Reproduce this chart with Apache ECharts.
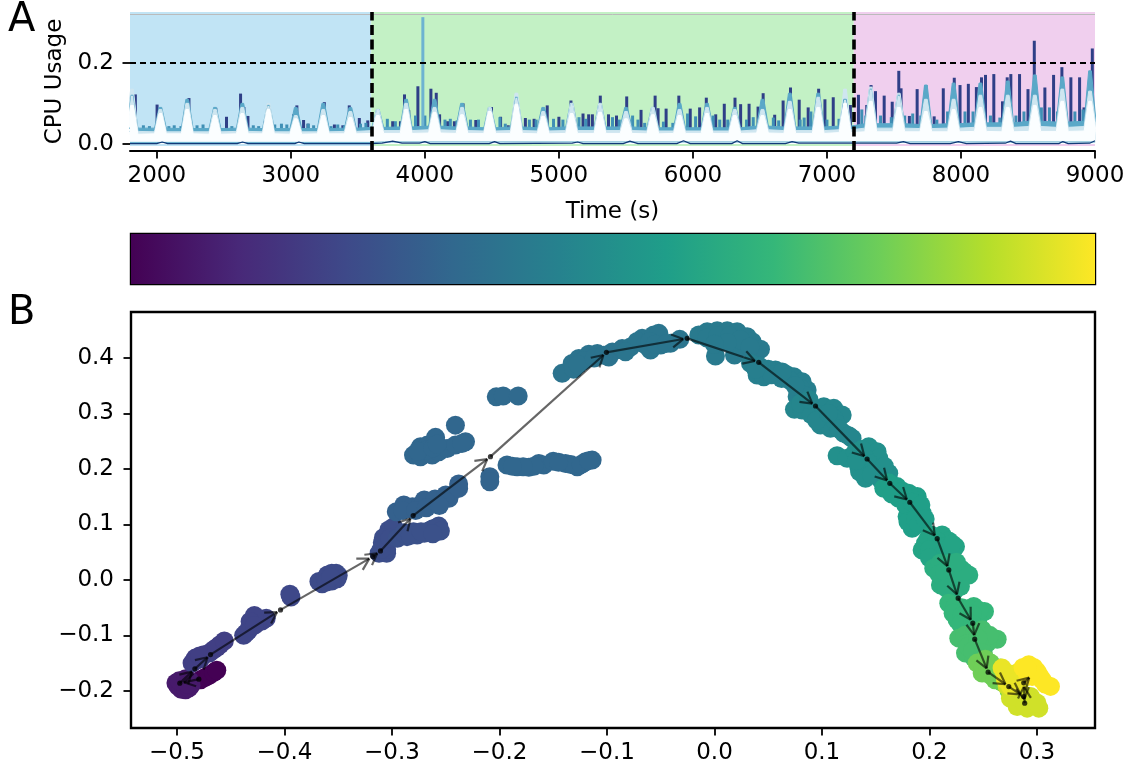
<!DOCTYPE html>
<html><head><meta charset="utf-8">
<style>html,body{margin:0;padding:0;background:#fff}#c{width:1132px;height:772px}</style>
<script src="https://cdn.jsdelivr.net/npm/echarts@6/dist/echarts.min.js"></script>
</head><body><div id="c"></div>
<script>
const viridis=['#440154','#482878','#3e4989','#31688e','#26828e','#1f9e89','#35b779','#6ece58','#b5de2b','#fde725'];
const timeTicks=[2000,3000,4000,5000,6000,7000,8000,9000];
const cpuTicks=[0,0.2];
const embedXTicks=[-0.5,-0.4,-0.3,-0.2,-0.1,0,0.1,0.2,0.3];
const embedYTicks=[-0.2,-0.1,0,0.1,0.2,0.3,0.4];
const phaseBounds=[1800,3600,7200,9000];
const threshold=0.2;

const darkSpikes=[[1840,.122],[2002,.097],[2240,.113],[2440,.089],[2520,.067],[2625,.124],[2650,.091],[2680,.069],[2805,.055],[3020,.073],[3045,.095],[3095,.059],[3128,.05],[3250,.103],[3325,.048],[3388,.046],[3436,.095],[3511,.064],[3574,.058],
[3760,.056],[3818,.056],[3848,.122],[3880,.083],[3948,.142],[4045,.136],[4085,.126],[4110,.073],[4170,.056],[4220,.056],[4285,.10],[4380,.059],[4497,.091],[4565,.067],[4622,.046],[4750,.064],[4815,.062],[4913,.095],[5000,.067],[5090,.107],[5180,.075],[5222,.073],[5250,.073],[5309,.119],[5370,.073],[5430,.07],
[5506,.117],[5613,.084],[5718,.119],[5740,.088],[5800,.087],[5895,.119],[5980,.087],[6050,.09],[6100,.114],[6170,.073],[6234,.099],[6314,.114],[6356,.098],[6419,.099],[6486,.092],[6524,.125],[6610,.072],[6673,.107],[6728,.139],[6793,.109],[6860,.09],[6938,.136],[6985,.11],[7047,.115],[7175,.096],
[7235,.121],[7297,.096],[7329,.145],[7362,.13],[7427,.119],[7487,.104],[7536,.18],[7553,.137],[7615,.069],[7673,.135],[7738,.145],[7800,.068],[7868,.137],[7950,.163],[7993,.145],[8055,.148],[8115,.14],[8153,.164],[8183,.17],[8245,.172],[8310,.105],[8345,.164],[8372,.172],[8437,.172],[8500,.135],[8547,.254],[8626,.139],[8691,.17],[8753,.189],[8820,.164],[8885,.164],[8918,.09],[8980,.235]];
const paleSpike=[[3985,.312]];
const tealSpikes=[[1900,.046],[1945,.044],[2090,.044],[2130,.046],[2180,.044],[2300,.046],[2345,.048],[2400,.044],[2560,.044],[2720,.046],[2760,.044],[2880,.048],[2930,.05],[2970,.048],[3130,.05],[3170,.046],[3300,.044],[3350,.048],[3400,.046],[3520,.05],[3560,.052],
[3720,.062],[3780,.056],[3930,.07],[4000,.07],[4150,.06],[4190,.062],[4240,.058],[4340,.06],[4400,.06],[4560,.066],[4600,.05],[4780,.06],[4830,.06],[4960,.062],[5030,.06],[5150,.066],[5200,.062],[5400,.066],[5450,.06],
[5550,.07],[5590,.06],[5640,.052],[5780,.055],[5850,.052],[5960,.075],[6020,.068],[6150,.07],[6200,.06],[6260,.06],[6400,.06],[6450,.066],[6600,.065],[6640,.058],[6800,.06],[6830,.065],[6880,.08],[7000,.06],[7090,.062],
[7260,.085],[7290,.07],[7400,.07],[7480,.066],[7580,.07],[7640,.075],[7700,.07],[7820,.06],[7900,.08],[8030,.08],[8090,.08],[8220,.07],[8290,.065],[8410,.07],[8470,.08],[8600,.09],[8660,.09],[8720,.08],[8850,.08],[8910,.085]];

const burstTime=[1815,2027,2227,2434,2638,2833,3037,3242,3444,3649,3860,4072,4277,4484,4683,4883,5095,5307,5501,5701,5900,6105,6312,6519,6723,6935,7135,7327,7536,7738,7945,8145,8349,8551,8756,8963];
const tealTop=[.12,.09,.11,.09,.10,.095,.09,.10,.09,.085,.11,.11,.10,.09,.115,.09,.10,.10,.09,.09,.10,.10,.09,.11,.125,.125,.11,.135,.12,.145,.15,.15,.155,.17,.165,.18];
const paleTop=[.135,.085,.10,.085,.09,.10,.07,.085,.08,.085,.10,.09,.09,.09,.125,.08,.10,.10,.08,.09,.085,.09,.085,.085,.105,.115,.135,.14,.125,.11,.11,.12,.12,.12,.135,.13];
const whiteTop=[.095,.075,.085,.07,.075,.085,.062,.07,.065,.07,.085,.078,.072,.08,.098,.068,.075,.078,.062,.072,.07,.075,.07,.07,.085,.09,.1,.105,.09,.08,.085,.09,.09,.095,.105,.105];
const tealBase=[.039,.039,.038,.038,.039,.038,.038,.038,.039,.041,.042,.044,.042,.04,.042,.04,.042,.042,.042,.04,.04,.04,.04,.044,.042,.042,.044,.05,.05,.048,.05,.052,.052,.056,.054,.056];
const paleBase=[.031,.03,.03,.03,.031,.03,.03,.03,.031,.033,.033,.035,.033,.032,.033,.032,.033,.033,.033,.032,.032,.032,.032,.035,.033,.033,.035,.039,.039,.038,.039,.041,.041,.043,.041,.043];
const whiteBase=[.024,.025,.025,.024,.025,.025,.024,.025,.025,.026,.026,.027,.026,.026,.026,.025,.026,.026,.026,.025,.026,.026,.026,.027,.026,.026,.028,.03,.03,.03,.03,.031,.03,.031,.031,.032];

const floorTeal=[[1800,.004],[3600,.004],[3700,.005],[7200,.005],[9000,.005]];
const floorDark=[[1800,.001],[2000,.001],[2040,.005],[2080,.001],[2600,.001],[2640,.005],[2680,.001],[3030,.001],[3060,.005],[3100,.001],[3600,.001],[3680,.002],[3760,.007],[3830,.002],[3960,.002],[4000,.006],[4040,.001],[4480,.001],[4520,.006],[4560,.001],[5100,.002],[5140,.005],[5180,.001],[5480,.001],[5530,.007],[5590,.001],[5880,.001],[5930,.008],[5980,.001],[6290,.001],[6330,.008],[6370,.001],[6690,.001],[6740,.006],[6790,.002],[7200,.002],[7520,.002],[7570,.006],[7620,.001],[7920,.001],[7980,.006],[8040,.001],[8330,.002],[8370,.007],[8410,.001],[8730,.001],[8760,.006],[8800,.001],[8960,.002],[9000,.008]];

const nodeX=[-.4797,-.4974,-.4834,-.4688,-.4037,-.3179,-.3107,-.2803,-.2084,-.1005,-.0254,.0412,.094,.142,.1631,.1817,.2072,.218,.2267,.2403,.2421,.2546,.2738,.2877,.2886,.2877,.2955];
const nodeY=[-.1789,-.1861,-.1604,-.1346,-.0541,.042,.0523,.1159,.2222,.4103,.4355,.3923,.3135,.218,.1742,.14,.0744,.018,-.033,-.078,-.1068,-.1663,-.1923,-.2103,-.2222,-.1856,-.1712];

const c01=[[-.478,-.18],[-.474,-.176],[-.47,-.172],[-.466,-.167],[-.463,-.163]];
const c02=[[-.501,-.186],[-.499,-.192],[-.496,-.197],[-.492,-.198],[-.489,-.195],[-.487,-.19],[-.498,-.182],[-.492,-.178],[-.488,-.182],[-.49,-.188]];
const c03=[[-.486,-.15],[-.483,-.141],[-.475,-.135],[-.466,-.126],[-.46,-.117],[-.478,-.142],[-.47,-.132],[-.484,-.147],[-.479,-.137],[-.463,-.122],[-.456,-.11]];
const c04=[[-.438,-.1],[-.434,-.092],[-.431,-.084],[-.426,-.078],[-.421,-.074],[-.417,-.069],[-.424,-.07],[-.428,-.064],[-.432,-.075],[-.436,-.096],[-.428,-.082]];
const c05=[[-.395,-.026],[-.394,-.031]];
const c06=[[-.368,-.003],[-.365,-.007],[-.362,.002],[-.36,.009],[-.356,.012],[-.352,.012],[-.35,.008],[-.351,.002],[-.356,-.002],[-.361,-.004],[-.357,.005]];
const c07=[[-.312,.048],[-.305,.048],[-.309,.067],[-.303,.09],[-.2986,.0955],[-.305,.055],[-.308,.076],[-.31,.055],[-.302,.075]];
const c08=[[-.295,.075],[-.286,.078],[-.2766,.081],[-.27,.084],[-.264,.09],[-.2565,.097],[-.262,.092],[-.268,.087],[-.28,.087],[-.289,.085],[-.283,.08],[-.273,.087],[-.258,.095],[-.255,.088],[-.262,.083]];
const c09=[[-.296,.123],[-.289,.135],[-.281,.132],[-.2735,.135],[-.264,.138],[-.2565,.141],[-.247,.147],[-.27,.144],[-.26,.146],[-.25,.153],[-.29,.125],[-.278,.125],[-.268,.13],[-.256,.134]];
const c10=[[-.238,.173],[-.238,.165]];
const c11=[[-.28,.225],[-.2735,.222],[-.2735,.24],[-.267,.243],[-.2595,.257],[-.2626,.225],[-.2565,.231],[-.2487,.237],[-.241,.243],[-.2316,.249],[-.241,.279],[-.268,.234],[-.235,.246],[-.276,.232],[-.262,.238],[-.258,.245]];
const c12=[[-.209,.186],[-.209,.177]];
const c13=[[-.203,.33],[-.1966,.3315],[-.1826,.3315]];
const c14=[[-.193,.207],[-.1836,.204],[-.1727,.203],[-.1634,.21],[-.1588,.207],[-.15,.214],[-.1386,.21],[-.1277,.204],[-.12,.213],[-.1138,.216],[-.168,.205],[-.1337,.208],[-.145,.212],[-.178,.204],[-.188,.205],[-.124,.208],[-.117,.215]];
const c15=[[-.1417,.3724],[-.1324,.39],[-.1262,.399],[-.1169,.407],[-.109,.408],[-.0983,.402],[-.095,.411],[-.0859,.417],[-.131,.38],[-.122,.395],[-.127,.388],[-.112,.4],[-.103,.405]];
const c16=[[-.0781,.42],[-.0673,.4355],[-.0565,.4414],[-.0518,.4445],[-.0595,.4144],[-.05,.4234],[-.0409,.4265],[-.0323,.4337],[-.072,.43],[-.0828,.4114],[-.0643,.424],[-.06,.43],[-.055,.425],[-.045,.426]];
const c17=[[-.0146,.4414],[-.0068,.4474],[.0025,.4492],[.0118,.4492],[.0211,.4474],[.0304,.4384],[.0351,.4294],[.0428,.4157],[.0056,.4324],[.0177,.4234],[.0273,.4204],[.0009,.4036],[.0186,.4054],[-.007,.436],[.003,.44],[.014,.44],[.024,.433],[.033,.42],[.012,.428],[.0,.425]];
const c18=[[.0335,.3904],[.0397,.3694],[.0459,.3664],[.0567,.3784],[.0676,.3694],[.0738,.3664],[.0815,.3573],[.0862,.3423],[.0769,.3303],[.05,.38],[.0625,.363],[.042,.385],[.053,.37],[.07,.36],[.08,.345],[.0835,.333],[.0385,.38],[.063,.375],[.075,.35]];
const c19=[[.0744,.3075],[.0815,.3063],[.0893,.3123],[.1017,.3123],[.111,.3093],[.1188,.2973],[.111,.2913],[.0986,.2793],[.1079,.2733],[.1203,.2643],[.128,.2553],[.08,.318],[.09,.298],[.101,.298],[.095,.288],[.113,.283],[.116,.272],[.106,.3],[.088,.325],[.125,.26]];
const c20=[[.1141,.224],[.1234,.2193],[.1435,.2402],[.1513,.2312],[.1528,.2192],[.1342,.2042],[.1405,.1832],[.1513,.1922],[.1621,.1922],[.14,.22],[.131,.23],[.137,.235],[.147,.2],[.135,.195],[.144,.21],[.158,.205],[.155,.18],[.146,.19],[.132,.215]];
const c21=[[.1575,.1652],[.1699,.1682],[.1714,.1472],[.1886,.1502],[.1807,.1562],[.1792,.1141],[.1854,.1261],[.1932,.1201],[.1839,.0931],[.162,.175],[.175,.16],[.165,.155],[.178,.135],[.184,.14],[.192,.135],[.18,.105],[.187,.11],[.19,.1],[.196,.11]];
const c22=[[.2118,.0811],[.2242,.06],[.1963,.0661],[.1932,.054],[.2066,.054],[.218,.07],[.2015,.081],[.199,.075],[.207,.07],[.215,.06],[.2,.055],[.2115,.045],[.221,.065],[.2,.04]];
const c23=[[.204,.0211],[.2366,.009],[.218,.03],[.229,.02],[.2102,-.009],[.2288,-.012],[.219,-.003],[.21,.03],[.209,.01],[.224,.01],[.232,.015],[.214,.015],[.225,.032],[.216,-.015],[.223,-.02]];
const c24=[[.218,-.042],[.2257,-.072],[.2412,-.048],[.2512,-.057],[.235,-.072],[.245,-.072],[.23,-.05],[.224,-.047],[.236,-.052],[.222,-.06],[.23,-.065],[.246,-.055],[.24,-.062],[.229,-.08],[.24,-.08]];
const c25=[[.2273,-.105],[.263,-.107],[.249,-.09],[.2412,-.114],[.2537,-.114],[.2335,-.132],[.2412,-.14],[.233,-.1],[.242,-.098],[.256,-.1],[.235,-.115],[.248,-.122],[.236,-.12],[.245,-.105],[.24,-.128],[.25,-.132]];
const c26=[[.2444,-.15],[.249,-.168],[.266,-.159],[.257,-.172],[.257,-.15],[.25,-.155],[.262,-.165],[.254,-.16],[.252,-.143],[.261,-.18],[.268,-.185],[.274,-.2]];
const c27=[[.2753,-.2132],[.2816,-.2282],[.2909,-.2312],[.3017,-.2312],[.294,-.21],[.284,-.2],[.2723,-.192],[.286,-.218],[.296,-.222],[.279,-.21],[.289,-.225],[.3,-.222]];
const c28=[[.2676,-.159],[.2707,-.18],[.2816,-.168],[.2754,-.192],[.284,-.183],[.276,-.17],[.27,-.168],[.289,-.175],[.278,-.185]];
const c29=[[.2924,-.153],[.3,-.165],[.2955,-.174],[.3126,-.192],[.2909,-.168],[.3048,-.18],[.297,-.158],[.287,-.158],[.302,-.172],[.308,-.188],[.291,-.16]];
const clusters=[c01,c02,c03,c04,c05,c06,c07,c08,c09,c10,c11,c12,c13,c14,c15,c16,c17,c18,c19,c20,c21,c22,c23,c24,c25,c26,c27,c28,c29];
const clusterShade=[0,.07,.19,.21,.22,.23,.24,.25,.31,.31,.33,.32,.34,.33,.38,.39,.41,.43,.46,.5,.56,.58,.62,.66,.7,.78,.93,.97,1];

const burst=(top,base)=>{const o=[[1800,base[0]]];burstTime.forEach((t,i)=>{o.push([t-44,base[i]],[t-10,top[i]],[t+10,top[i]],[t+44,base[i]]);});o.push([9000,base[base.length-1]]);return o;};
const fmt=v=>v.toFixed(1).replace('-','\u2212');
const font='"DejaVu Sans"';
const fs=23;
const scatterData=[];
clusters.forEach((c,i)=>c.forEach(p=>scatterData.push([p[0],p[1],clusterShade[i]])));
const arrows=[];
for(let i=0;i<nodeX.length-1;i++)arrows.push([nodeX[i],nodeY[i],nodeX[i+1],nodeY[i+1]]);

const area=(name,data,color)=>({name,type:'line',xAxisIndex:0,yAxisIndex:0,data:burst(data[0],data[1]),symbol:'none',smooth:false,lineStyle:{width:1,color},itemStyle:{color},areaStyle:{color,opacity:1,origin:0},z:3,silent:true});
const tick={show:true,length:7.5,lineStyle:{color:'#000',width:1.8}};
const spine={show:true,onZero:false,lineStyle:{color:'#000',width:2}};
const lab={color:'#000',fontSize:fs,fontFamily:font};

const chart=echarts.init(document.getElementById('c'),null,{renderer:'canvas'});
chart.setOption({
 animation:false,
 backgroundColor:'#fff',
 textStyle:{fontFamily:font},
 grid:[
  {left:130,right:37,top:12,height:139,show:false},
  {left:131,right:37,top:234,height:50,show:true,borderColor:'#000',borderWidth:2.4,backgroundColor:'transparent'},
  {left:131,right:37,top:312,height:416,show:true,borderColor:'#000',borderWidth:2.4,backgroundColor:'transparent'}
 ],
 xAxis:[
  {gridIndex:0,type:'value',min:1800,max:9000,name:'Time (s)',nameLocation:'middle',nameGap:50,nameTextStyle:{fontSize:fs,color:'#000',fontFamily:font},splitLine:{show:false},
   axisLine:spine,axisTick:{...tick,customValues:timeTicks},axisLabel:{...lab,margin:14,customValues:timeTicks,showMinLabel:true,showMaxLabel:true,formatter:v=>String(v)}},
  {gridIndex:1,type:'value',min:0,max:1,show:false},
  {gridIndex:2,type:'value',min:-.5428,max:.354,splitLine:{show:false},
   axisLine:spine,axisTick:{...tick,customValues:embedXTicks},axisLabel:{...lab,margin:14,customValues:embedXTicks,formatter:fmt}}
 ],
 yAxis:[
  {gridIndex:0,type:'value',min:-.0172,max:.3247,splitLine:{show:false},
   axisLine:{show:false},axisTick:{...tick,customValues:cpuTicks},axisLabel:{...lab,margin:16,customValues:cpuTicks,formatter:v=>v.toFixed(1)}},
  {gridIndex:1,type:'category',data:[''],show:false},
  {gridIndex:2,type:'value',min:-.267,max:.483,splitLine:{show:false},
   axisLine:spine,axisTick:{...tick,customValues:embedYTicks},axisLabel:{...lab,margin:17,customValues:embedYTicks,formatter:fmt}}
 ],
 visualMap:[{show:false,seriesIndex:[11],dimension:2,min:0,max:1,inRange:{color:viridis}}],
 series:[
  {name:'phases',type:'line',xAxisIndex:0,yAxisIndex:0,data:[],symbol:'none',z:1,silent:true,
   markArea:{silent:true,z:1,data:[
    [{xAxis:phaseBounds[0],yAxis:-.005,itemStyle:{color:'#c1e4f5'}},{xAxis:phaseBounds[1],yAxis:.3247}],
    [{xAxis:phaseBounds[1],yAxis:-.005,itemStyle:{color:'#c3f1c5'}},{xAxis:phaseBounds[2],yAxis:.3247}],
    [{xAxis:phaseBounds[2],yAxis:-.005,itemStyle:{color:'#f0cfee'}},{xAxis:phaseBounds[3],yAxis:.3247}]]}},
  {name:'spikes',type:'bar',xAxisIndex:0,yAxisIndex:0,data:darkSpikes,barWidth:3,barGap:'-100%',itemStyle:{color:'#2f3f87'},z:2,silent:true},
  {name:'teal spikes',type:'bar',xAxisIndex:0,yAxisIndex:0,data:tealSpikes,barWidth:3,barGap:'-100%',itemStyle:{color:'#3f8fb5'},z:2,silent:true},
  {name:'pale spike',type:'bar',xAxisIndex:0,yAxisIndex:0,data:paleSpike,barWidth:3,barGap:'-100%',itemStyle:{color:'#6db3d1'},z:2,silent:true},
  area('teal',[tealTop,tealBase],'#5aa8c8'),
  area('pale',[paleTop,paleBase],'#cfe6f0'),
  area('white',[whiteTop,whiteBase],'#fbfeff'),
  {name:'floor teal',type:'line',xAxisIndex:0,yAxisIndex:0,data:floorTeal,symbol:'none',lineStyle:{color:'#5aa8c8',width:1},z:4,silent:true},
  {name:'floor dark',type:'line',xAxisIndex:0,yAxisIndex:0,data:floorDark,symbol:'none',lineStyle:{color:'#123a78',width:1.2},z:4,silent:true},
  {name:'marks',type:'line',xAxisIndex:0,yAxisIndex:0,data:[],symbol:'none',z:6,silent:true,
   markLine:{silent:true,symbol:'none',label:{show:false},z:6,data:[
     {yAxis:.3247,lineStyle:{color:'#bbbbbb',type:'solid',width:1}},
     {yAxis:threshold,lineStyle:{color:'#000',type:[6,4],width:1.8}},
     {xAxis:phaseBounds[1],lineStyle:{color:'#000',type:[10,4.5],width:3.6}},
     {xAxis:phaseBounds[2],lineStyle:{color:'#000',type:[10,4.5],width:3.6}}]}},
  {name:'colorbar',type:'bar',xAxisIndex:1,yAxisIndex:1,data:[1],barWidth:'100%',silent:true,
   itemStyle:{color:new echarts.graphic.LinearGradient(0,0,1,0,viridis.map((c,i)=>({offset:i/(viridis.length-1),color:c})))}},
  {name:'embedding',type:'scatter',xAxisIndex:2,yAxisIndex:2,data:scatterData,symbolSize:19,itemStyle:{opacity:1},z:3,silent:true,progressive:0},
  {name:'trajectory',type:'custom',xAxisIndex:2,yAxisIndex:2,data:arrows,z:5,silent:true,
   renderItem:(p,api)=>{
     const a=api.coord([api.value(0),api.value(1)]),n=api.coord([api.value(2),api.value(3)]);
     const ang=Math.atan2(n[1]-a[1],n[0]-a[0]),L=13,w=0.52;
     const b=[n[0]-4*Math.cos(ang),n[1]-4*Math.sin(ang)];
     const st={stroke:'rgba(0,0,0,0.6)',lineWidth:2.2,fill:null};
     return {type:'group',children:[
       {type:'circle',shape:{cx:a[0],cy:a[1],r:2.6},style:{fill:'rgba(0,0,0,0.75)'}},
       {type:'line',shape:{x1:a[0],y1:a[1],x2:b[0],y2:b[1]},style:st},
       {type:'line',shape:{x1:b[0],y1:b[1],x2:b[0]-L*Math.cos(ang-w),y2:b[1]-L*Math.sin(ang-w)},style:st},
       {type:'line',shape:{x1:b[0],y1:b[1],x2:b[0]-L*Math.cos(ang+w),y2:b[1]-L*Math.sin(ang+w)},style:st}
     ]};
   }}
 ],
 graphic:[
  {type:'text',left:8,top:1,style:{text:'A',font:'40px "DejaVu Sans"',fill:'#000'}},
  {type:'text',left:8,top:294,style:{text:'B',font:'40px "DejaVu Sans"',fill:'#000'}},
  {type:'text',x:55,y:81.5,rotation:Math.PI/2,style:{text:'CPU Usage',font:'23px "DejaVu Sans"',fill:'#000',align:'center',verticalAlign:'middle'}}
 ]
});
</script></body></html>
